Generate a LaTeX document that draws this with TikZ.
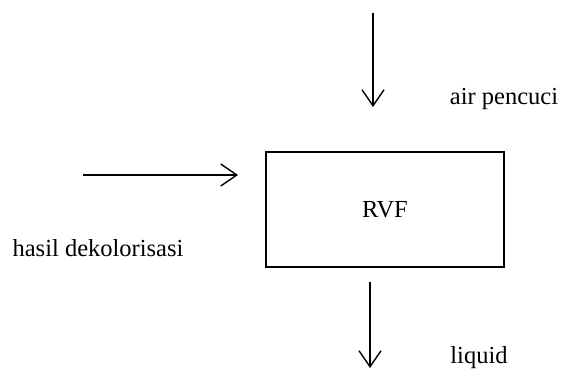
\documentclass[tikz,border=0pt]{standalone}
\usepackage{fontspec}
\setmainfont{Liberation Serif}
\usetikzlibrary{arrows.meta}
\begin{document}
\begin{tikzpicture}[x=1pt,y=-1pt,
  flow/.style={line width=1.4pt, -{Straight Barb[length=16pt,width=22pt,line width=1.4pt]}},
  lbl/.style={font=\fontsize{24.5}{28}\selectfont, inner sep=0pt, anchor=base},
  unit/.style={draw, line width=1.4pt, minimum width=238pt, minimum height=115pt, font=\fontsize{24.5}{28}\selectfont}]
\useasboundingbox (0,0) rectangle (562,378);
\node[unit] (rvf) at (385,209.5) {RVF};
\coordinate (t0) at (373,13);
\coordinate (t1) at (373,107);
\coordinate (l0) at (83,175);
\coordinate (l1) at (238,175);
\coordinate (b0) at (370,282);
\coordinate (b1) at (370,368);
\draw[flow] (t0) -- (t1);
\draw[flow] (l0) -- (l1);
\draw[flow] (b0) -- (b1);
\node[lbl] (air) at (504,104) {air pencuci};
\node[lbl] (hasil) at (98,256) {hasil dekolorisasi};
\node[lbl] (liq) at (479,363) {liquid};
\end{tikzpicture}
\end{document}
